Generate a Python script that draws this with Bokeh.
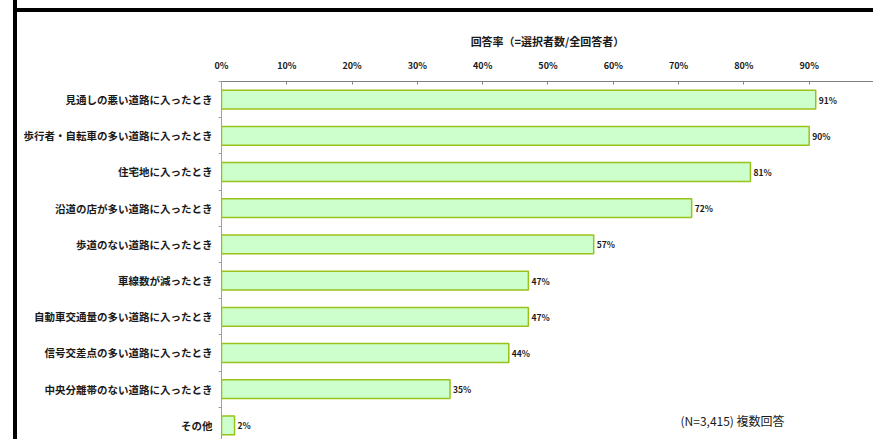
from bokeh.plotting import figure
from bokeh.models import ColumnDataSource, Range1d, FixedTicker, Label, NumeralTickFormatter
from bokeh.core.properties import value
from bokeh.embed import file_html
from bokeh.resources import INLINE

categories = [
    "見通しの悪い道路に入ったとき",
    "歩行者・自転車の多い道路に入ったとき",
    "住宅地に入ったとき",
    "沿道の店が多い道路に入ったとき",
    "歩道のない道路に入ったとき",
    "車線数が減ったとき",
    "自動車交通量の多い道路に入ったとき",
    "信号交差点の多い道路に入ったとき",
    "中央分離帯のない道路に入ったとき",
    "その他",
]
rates = [91, 90, 81, 72, 57, 47, 47, 44, 35, 2]
x_ticks = [0, 10, 20, 30, 40, 50, 60, 70, 80, 90]
axis_title = "回答率（=選択者数/全回答者）"
note = "(N=3,415) 複数回答"

FONT = "Noto Sans CJK JP"

pos = list(range(len(categories)))
src = ColumnDataSource(dict(
    y=pos,
    x=[r / 100 for r in rates],
    lbl=[f"{r}%" for r in rates],
))

p = figure(width=873, height=439, output_backend="svg", toolbar_location=None,
           x_range=Range1d(0, 0.9985), y_range=Range1d(9.39, -0.5),
           x_axis_location="above", min_border_left=221, min_border_top=81,
           min_border_right=0, min_border_bottom=0)
p.outline_line_color = None
p.xgrid.visible = False
p.ygrid.visible = False
p.border_fill_color = None
p.styles = {
    "background-color": "white",
    "background-image": "linear-gradient(to right, transparent 13px, black 13px, black 17px, transparent 17px), linear-gradient(to bottom, transparent 8px, black 8px, black 12px, transparent 12px)",
    "background-repeat": "no-repeat",
    "background-size": "100% 100%, 100% 100%",
    "background-position": "0 0, 13px 0",
}

p.hbar(y="y", right="x", left=0, height=0.52, source=src,
       fill_color="#ccffcc", line_color="#99c21a", line_width=1.5)

p.text(x="x", y="y", text="lbl", source=src, x_offset=3,
       text_font=value(FONT), text_font_style="bold", text_font_size="8.5px",
       text_baseline="middle", text_align="left", text_color="#1a1a1a")

xa = p.xaxis[0]
xa.ticker = FixedTicker(ticks=[t / 100 for t in x_ticks])
xa.formatter = NumeralTickFormatter(format="0%")
xa.axis_label = axis_title
xa.axis_label_text_font = FONT
xa.axis_label_text_font_style = "bold"
xa.axis_label_text_font_size = "11px"
xa.axis_label_text_color = "#1a1a1a"
xa.axis_label_standoff = 7
xa.major_label_text_font = FONT
xa.major_label_text_font_style = "bold"
xa.major_label_text_font_size = "9px"
xa.major_label_text_color = "#1a1a1a"
xa.major_label_standoff = 10
xa.major_tick_in = 3
xa.major_tick_out = 0
xa.minor_tick_line_color = None
xa.axis_line_color = "#808080"
xa.major_tick_line_color = "#808080"

ya = p.yaxis[0]
ya.ticker = FixedTicker(ticks=pos, minor_ticks=[i + 0.5 for i in range(-1, len(pos))])
ya.major_label_overrides = {i: c for i, c in zip(pos, categories)}
ya.major_label_text_font = FONT
ya.major_label_text_font_style = "bold"
ya.major_label_text_font_size = "10.5px"
ya.major_label_text_color = "#1a1a1a"
ya.major_label_standoff = 3
ya.major_tick_line_color = None
ya.minor_tick_in = 0
ya.minor_tick_out = 3
ya.minor_tick_line_color = "#9aa0b0"
ya.axis_line_color = "#9aa0b0"

p.add_layout(Label(x=459, y=19, x_units="screen", y_units="screen", text=note,
                   text_font=FONT, text_font_size="12px", text_color="#1a1a1a",
                   text_baseline="middle"))

open("out.html", "w").write(file_html(p, INLINE))
